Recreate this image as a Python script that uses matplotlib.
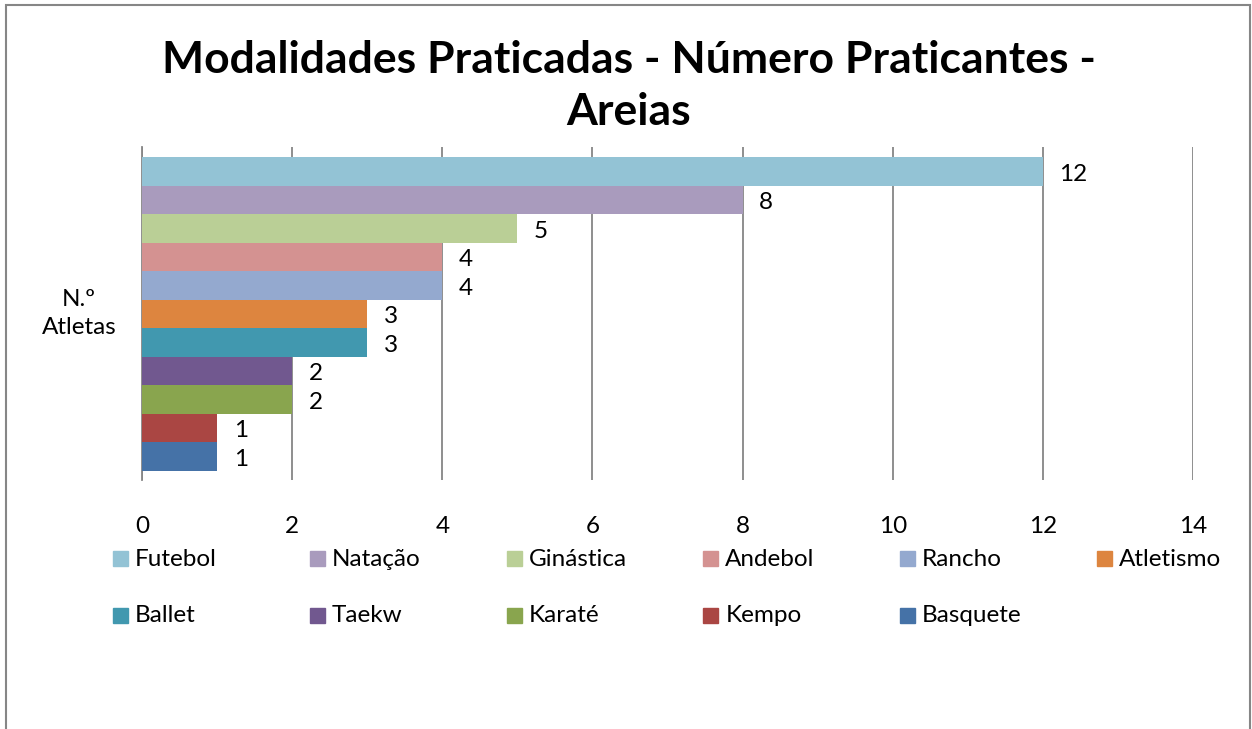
import matplotlib.pyplot as plt
from matplotlib.patches import Rectangle
import numpy as np

# data
modalidades = ['Futebol', 'Natação', 'Ginástica', 'Andebol', 'Rancho', 'Atletismo',
               'Ballet', 'Taekw', 'Karaté', 'Kempo', 'Basquete']
praticantes = [12, 8, 5, 4, 4, 3, 3, 2, 2, 1, 1]
cores = ['#93C3D5', '#A99BBD', '#BACF96', '#D49291', '#94A9CF', '#DD853F',
         '#4198AF', '#71588F', '#89A54E', '#AA4643', '#4572A7']
categoria = 'N.º\nAtletas'
titulo = 'Modalidades Praticadas - Número Praticantes -\nAreias'

plt.rcParams['font.family'] = ['Lato', 'DejaVu Sans']
fs = 17.5

W, H = 1252, 729
fig = plt.figure(figsize=(W / 100, H / 100), dpi=100)
ax = fig.add_axes([142 / W, 1 - 480 / H, (1193 - 142) / W, (480 - 147) / H])

n = len(modalidades)
h = (314 / 333) / n
top = 0.5 - 10 / 333
ys = top - h * (np.arange(n) + 0.5)
bars = ax.barh(ys, praticantes, height=h, color=cores, zorder=3)
for lab in ax.bar_label(bars, labels=[str(v) for v in praticantes], padding=12, fontsize=fs):
    lab.set_y(-2)

ax.set_xlim(0, 14)
ax.set_ylim(-0.5, 0.5)
ax.set_xticks(range(0, 15, 2))
ax.set_yticks([])
ax.tick_params(axis='x', length=0, pad=26, labelsize=fs)

# category label, centred left of the plot
ax.text(-63 / (1193 - 142), 0.5, categoria, transform=ax.transAxes,
        ha='center', va='center', fontsize=fs, linespacing=1.45)

ax.grid(axis='x', color='#868686', linewidth=1.3, zorder=0)
for s in ['top', 'right', 'bottom']:
    ax.spines[s].set_visible(False)
ax.spines['left'].set_color('#868686')
ax.spines['left'].set_linewidth(1.3)

# title
fig.text(629 / W, 1 - 86 / H, titulo, ha='center', va='center', fontsize=32,
         fontweight='bold', linespacing=1.38)

# legend laid out like Excel
for i, (nome, cor) in enumerate(zip(modalidades, cores)):
    col, row = i % 6, i // 6
    x0 = 113 + col * 196.8
    yc = 558 + row * 57
    fig.patches.append(Rectangle((x0 / W, 1 - (yc + 7.5) / H), 15 / W, 15 / H,
                                 transform=fig.transFigure, color=cor))
    fig.text((x0 + 22) / W, 1 - (yc + 1) / H, nome, ha='left', va='center', fontsize=fs)

# chart border
fig.patches.append(Rectangle((6 / W, -0.05), (1250 - 6) / W, 1 - 5 / H + 0.05,
                             transform=fig.transFigure, fill=False,
                             edgecolor='#868686', linewidth=1.5))

fig.savefig('out.png', dpi=100)
